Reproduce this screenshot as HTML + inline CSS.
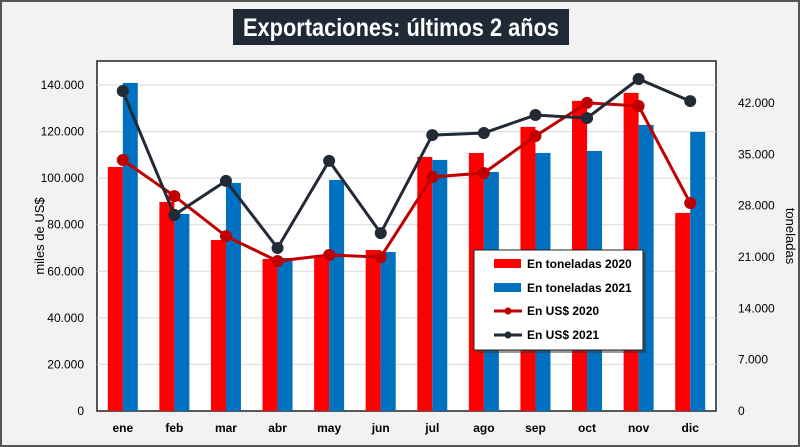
<!DOCTYPE html>
<html><head><meta charset="utf-8"><style>
body{margin:0;background:#fff}
svg{display:block;font-family:"Liberation Sans",sans-serif}
</style></head><body>
<svg width="800" height="447" viewBox="0 0 800 447" id="chart">
<rect x="1" y="1" width="798" height="445" fill="#f2f2f2" stroke="#555" stroke-width="2"/>
<rect x="233" y="9" width="336" height="36" fill="#1f2a36"/>
<text x="401" y="36" text-anchor="middle" font-size="25" font-weight="bold" fill="#fff" textLength="316" lengthAdjust="spacingAndGlyphs">Exportaciones: últimos 2 años</text>
<rect x="97" y="61" width="619" height="350" fill="#fff" stroke="#222" stroke-width="1.5"/>
<g id="grid"></g><g id="bars"></g><g id="lines"></g><g id="axes"></g>
<text transform="translate(44,236) rotate(-90)" text-anchor="middle" font-size="13" fill="#000">miles de US$</text>
<text transform="translate(786,236) rotate(90)" text-anchor="middle" font-size="13" fill="#000">toneladas</text>
<g>
<rect x="477" y="253" width="169" height="100" fill="#333" opacity="0.5"/>
<rect x="474" y="250" width="169" height="100" fill="#fff" stroke="#222"/>
<g><rect x="494" y="259" width="27" height="9" fill="#ff0000"/><text x="527" y="268" font-size="12" font-weight="bold">En toneladas 2020</text></g>
<g><rect x="494" y="283" width="27" height="9" fill="#0070c0"/><text x="527" y="292" font-size="12" font-weight="bold">En toneladas 2021</text></g>
<g><line x1="494" y1="311" x2="522" y2="311" stroke="#c00000" stroke-width="3"/><circle cx="508" cy="311" r="3.5" fill="#c00000"/><text x="527" y="315" font-size="12" font-weight="bold">En US$ 2020</text></g>
<g><line x1="494" y1="335" x2="522" y2="335" stroke="#222a35" stroke-width="3"/><circle cx="508" cy="335" r="3.5" fill="#222a35"/><text x="527" y="339" font-size="12" font-weight="bold">En US$ 2021</text></g>
</g>
</svg>
<script>
const categories=["ene","feb","mar","abr","may","jun","jul","ago","sep","oct","nov","dic"];
const ton2020=[33280,28510,23320,20730,21140,21960,34650,35190,38740,42290,43380,27010];
const ton2021=[44740,26870,31100,20870,31510,21690,34240,32600,35190,35460,39010,38060];
const usd2020=[107800,92300,75100,64400,67000,66100,100500,102200,118100,132300,131000,89300];
const usd2021=[137400,84200,98800,70000,107400,76400,118500,119400,127100,125800,142600,133100];
const leftTicks=[0,20000,40000,60000,80000,100000,120000,140000];
const leftLabels=["0","20.000","40.000","60.000","80.000","100.000","120.000","140.000"];
const rightTicks=[0,7000,14000,21000,28000,35000,42000];
const rightLabels=["0","7.000","14.000","21.000","28.000","35.000","42.000"];
const NS="http://www.w3.org/2000/svg";
const X0=97,W=619,Y0=411;
const yL=v=>Y0-v*326/140000;
const yR=v=>Y0-v*308/42000;
const xC=i=>X0+W/12*(i+0.5);
function mk(t,a,p){const e=document.createElementNS(NS,t);for(const k in a)e.setAttribute(k,a[k]);p.appendChild(e);return e;}
const grid=document.getElementById('grid'),bars=document.getElementById('bars'),lines=document.getElementById('lines'),axes=document.getElementById('axes');
leftTicks.forEach((v,i)=>{
 if(v>0){const g=mk('line',{x1:X0,x2:X0+W,y1:yL(v),y2:yL(v),stroke:'#d9d9d9'},grid);
 
 }
 const t=mk('text',{x:84,y:yL(v)+4,'text-anchor':'end','font-size':12},axes);t.textContent=leftLabels[i];
 
 
});
rightTicks.forEach((v,i)=>{
 const t=mk('text',{x:738,y:yR(v)+4,'font-size':12},axes);t.textContent=rightLabels[i];
 
 
});
categories.forEach((c,i)=>{
 const r=mk('rect',{x:xC(i)-15,y:yR(ton2020[i]),width:15,height:Y0-yR(ton2020[i]),fill:'#ff0000'},bars);
 
 
 const b=mk('rect',{x:xC(i),y:yR(ton2021[i]),width:15,height:Y0-yR(ton2021[i]),fill:'#0070c0'},bars);
 
 
 const t=mk('text',{x:xC(i),y:432,'text-anchor':'middle','font-size':12,'font-weight':'bold'},axes);t.textContent=c;
 
 
});
[[usd2020,'#c00000','usd-2020'],[usd2021,'#222a35','usd-2021']].forEach(([d,col,n])=>{
 const p=mk('polyline',{points:d.map((v,i)=>xC(i)+','+yL(v)).join(' '),fill:'none',stroke:col,'stroke-width':3},lines);
 
 
 d.forEach((v,i)=>{const c=mk('circle',{cx:xC(i),cy:yL(v),r:6,fill:col},lines);
 
 });
});
</script>
</body></html>
